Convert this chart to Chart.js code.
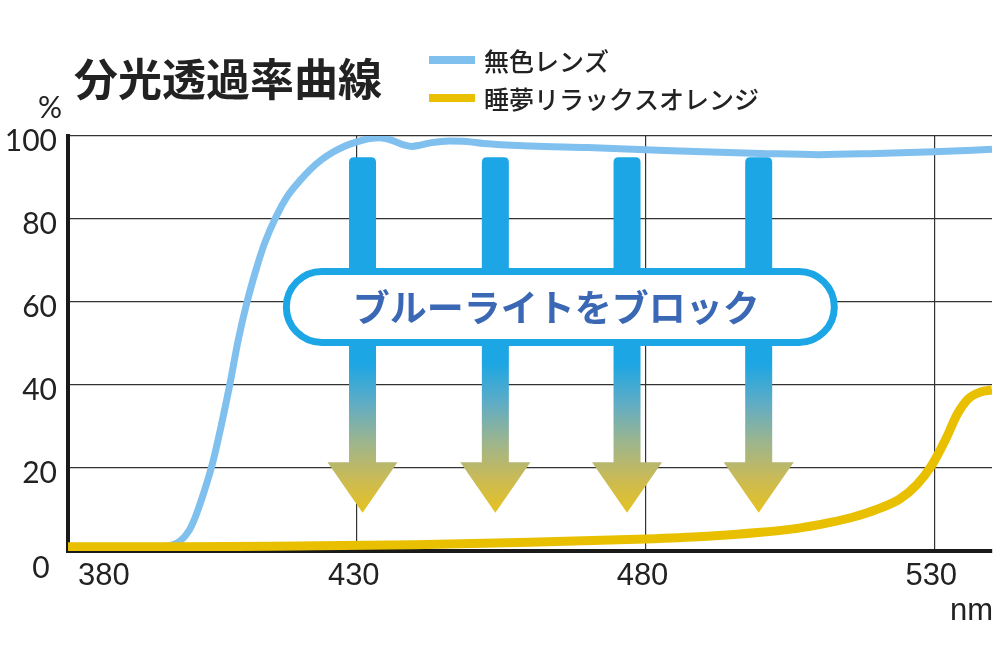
<!DOCTYPE html>
<html>
<head>
<meta charset="utf-8">
<script src="https://cdn.jsdelivr.net/npm/chart.js@4.4.1/dist/chart.umd.min.js"></script>
<style>
  html, body { margin: 0; padding: 0; background: #ffffff; }
  #wrap { width: 1000px; height: 660px; position: relative; }
  canvas { display: block; }
</style>
</head>
<body>
<div id="wrap"><canvas id="c" width="1000" height="660"></canvas></div>
<script>
// ---- data ----
const chartTitle = "分光透過率曲線";
const seriesNames = ["無色レンズ", "睡夢リラックスオレンジ"];
const bannerText = "ブルーライトをブロック";
const xTickLabels = [380, 430, 480, 530];
const yTickLabels = [0, 20, 40, 60, 80, 100];
const xUnit = "nm";
const yUnit = "%";

const clearNm  = [380, 390, 396, 398, 399.5, 401, 402, 403.5, 405, 406.5, 408, 409.5, 411, 412.5, 414, 416, 418, 420, 422, 424, 426, 428, 430, 432, 434, 436, 438, 439.5, 441, 443, 446, 449, 452, 460, 470, 480, 490, 500, 510, 520, 530, 540];
const clearVal = [1, 1, 1.05, 1.4, 2.5, 5, 8, 14, 21, 30, 40, 51, 60, 67.5, 74, 80.5, 85.5, 89, 92, 94.4, 96.2, 97.6, 98.6, 99.3, 99.6, 99.0, 97.9, 97.5, 97.8, 98.4, 98.8, 98.7, 98.2, 97.6, 97.2, 96.7, 96.2, 95.8, 95.5, 95.8, 96.2, 96.8];

const orangeNm  = [380, 400, 420, 440, 460, 480, 490, 500, 506, 512, 516, 520, 524, 527, 529.5, 532, 534, 536, 538, 540];
const orangeVal = [1, 1, 1.2, 1.5, 2.1, 2.9, 3.5, 4.5, 5.4, 6.9, 8.2, 10, 12.5, 16, 20.5, 27, 33, 36.8, 38.3, 38.8];

// banner arrows (wavelength positions of the decorative arrows)
const arrowNm = [431, 454, 476.8, 499.6];

// ---- chart ----
const cjk = '"Noto Sans CJK JP", "Noto Sans CJK SC", sans-serif';

function roundRect(ctx, x, y, w, h, r) {
  ctx.beginPath();
  ctx.moveTo(x + r, y);
  ctx.lineTo(x + w - r, y);
  ctx.arc(x + w - r, y + r, r, -Math.PI / 2, 0);
  ctx.lineTo(x + w, y + h - r);
  ctx.arc(x + w - r, y + h - r, r, 0, Math.PI / 2);
  ctx.lineTo(x + r, y + h);
  ctx.arc(x + r, y + h - r, r, Math.PI / 2, Math.PI);
  ctx.lineTo(x, y + r);
  ctx.arc(x + r, y + r, r, Math.PI, Math.PI * 1.5);
  ctx.closePath();
}

const decor = {
  id: 'decor',
  beforeDatasetsDraw(chart) {
    const ctx = chart.ctx;
    const xs = chart.scales.x, ys = chart.scales.y;
    const top = ys.getPixelForValue(94.9);
    const headTop = ys.getPixelForValue(21.4);
    const tip = ys.getPixelForValue(9.2);
    ctx.save();
    const g = ctx.createLinearGradient(0, top, 0, tip);
    g.addColorStop(0, '#1ca6e6');
    g.addColorStop(0.58, '#1ca6e4');
    g.addColorStop(0.69, '#5eacc6');
    g.addColorStop(0.8, '#9cb58e');
    g.addColorStop(0.9, '#c8ba58');
    g.addColorStop(1, '#e6c21f');
    ctx.fillStyle = g;
    arrowNm.forEach(v => {
      const cx = xs.getPixelForValue(v);
      const sw = 13.5, hw = 35, r = 5;
      ctx.beginPath();
      ctx.moveTo(cx - sw, headTop);
      ctx.lineTo(cx - sw, top + r);
      ctx.quadraticCurveTo(cx - sw, top, cx - sw + r, top);
      ctx.lineTo(cx + sw - r, top);
      ctx.quadraticCurveTo(cx + sw, top, cx + sw, top + r);
      ctx.lineTo(cx + sw, headTop);
      ctx.lineTo(cx + hw, headTop);
      ctx.lineTo(cx, tip);
      ctx.lineTo(cx - hw, headTop);
      ctx.closePath();
      ctx.fill();
    });
    // banner pill
    const px1 = xs.getPixelForValue(417.2), px2 = xs.getPixelForValue(513.3);
    const py1 = ys.getPixelForValue(68.2), py2 = ys.getPixelForValue(49.4);
    const bw = 7;
    roundRect(ctx, px1 + bw / 2, py1 + bw / 2, px2 - px1 - bw, py2 - py1 - bw, (py2 - py1 - bw) / 2);
    ctx.fillStyle = '#ffffff';
    ctx.fill();
    ctx.lineWidth = bw;
    ctx.strokeStyle = '#1ca6e6';
    ctx.stroke();
    ctx.fillStyle = '#3a68b4';
    ctx.font = 'bold 37px ' + cjk;
    ctx.textAlign = 'center';
    ctx.textBaseline = 'middle';
    ctx.fillText(bannerText, (px1 + px2) / 2 - 4, (py1 + py2) / 2 + 1);
    ctx.restore();
  },
  afterDraw(chart) {
    const ctx = chart.ctx;
    const xs = chart.scales.x, ys = chart.scales.y;
    ctx.save();
    ctx.fillStyle = '#222222';
    // title
    ctx.font = 'bold 44px ' + cjk;
    ctx.textAlign = 'left';
    ctx.textBaseline = 'middle';
    ctx.fillText(chartTitle, 74, 79);
    // legend
    const legCols = ['#80c0ee', '#e8c000'];
    const legY = [60, 98];
    seriesNames.forEach((n, i) => {
      ctx.fillStyle = legCols[i];
      ctx.fillRect(429, legY[i] - 4, 46, 8);
      ctx.fillStyle = '#222222';
      ctx.font = '500 25px ' + cjk;
      ctx.textAlign = 'left';
      ctx.fillText(n, 484, legY[i] + 1);
    });
    // y tick labels
    ctx.font = '30px Lato, "Open Sans", sans-serif';
    yTickLabels.forEach(v => {
      const y = ys.getPixelForValue(v);
      if (v === 0) {
        ctx.textAlign = 'center';
        ctx.fillText(String(v), 41, y + 17);
      } else {
        ctx.textAlign = 'right';
        ctx.fillText(String(v), 57, y + 5);
      }
    });
    ctx.textAlign = 'center';
    ctx.fillText(yUnit, 50, 108);
    // x tick labels
    ctx.font = '31px "Liberation Sans", Arial, sans-serif';
    xTickLabels.forEach((v, i) => {
      const x = xs.getPixelForValue(v);
      if (i === 0) {
        ctx.textAlign = 'left';
        ctx.fillText(String(v), x + 10, 576);
      } else {
        ctx.textAlign = 'center';
        ctx.fillText(String(v), x - 3, 576);
      }
    });
    ctx.textAlign = 'right';
    ctx.fillText(xUnit, 993, 611);
    ctx.restore();
  }
};

new Chart(document.getElementById('c'), {
  type: 'line',
  data: {
    datasets: [
      {
        label: seriesNames[0],
        data: clearNm.map((x, i) => ({ x: x, y: clearVal[i] })),
        borderColor: '#80c0ee',
        borderWidth: 7,
        pointRadius: 0,
        cubicInterpolationMode: 'monotone',
        fill: false,
        order: 1
      },
      {
        label: seriesNames[1],
        data: orangeNm.map((x, i) => ({ x: x, y: orangeVal[i] })),
        borderColor: '#e8c000',
        borderWidth: 9,
        pointRadius: 0,
        cubicInterpolationMode: 'monotone',
        fill: false,
        order: 0
      }
    ]
  },
  options: {
    responsive: false,
    animation: false,
    devicePixelRatio: 1,
    layout: { padding: { left: 68, right: 8, top: 136, bottom: 109 } },
    plugins: { legend: { display: false }, tooltip: { enabled: false }, title: { display: false } },
    scales: {
      x: {
        type: 'linear',
        min: 380,
        max: 540,
        afterBuildTicks: s => { s.ticks = xTickLabels.map(v => ({ value: v })); },
        ticks: { display: false },
        grid: { color: '#333333', lineWidth: 1.2, drawTicks: false },
        border: { display: true, color: '#1a1a1a', width: 4 }
      },
      y: {
        type: 'linear',
        min: 0,
        max: 100,
        afterBuildTicks: s => { s.ticks = yTickLabels.map(v => ({ value: v })); },
        ticks: { display: false },
        grid: { color: '#333333', lineWidth: 1.2, drawTicks: false },
        border: { display: true, color: '#1a1a1a', width: 4 }
      }
    }
  },
  plugins: [decor]
});
</script>
</body>
</html>
